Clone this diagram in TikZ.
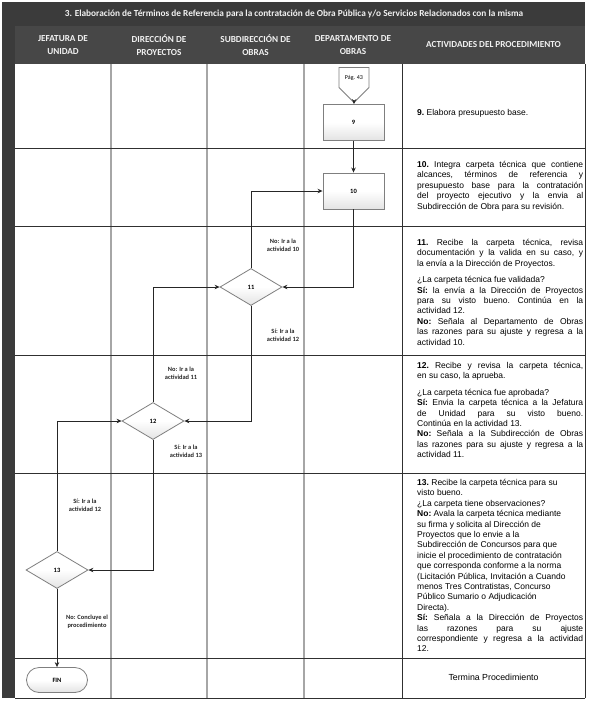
\documentclass[tikz,border=0pt]{standalone}
\usepackage{fontspec}
\setmainfont{Liberation Sans}
\newfontfamily\carlito{Carlito}
\usetikzlibrary{shapes.geometric, shapes.symbols, shapes.misc, arrows.meta, positioning}

\begin{document}
\begin{tikzpicture}[x=1pt, y=-1pt,
  actbox/.style={rectangle, draw=boxline, line width=0.9pt, top color=white, bottom color=gray!22, middle color=white,
    minimum width=61pt, minimum height=36pt, inner sep=0pt, font=\carlito\bfseries\fontsize{6.5}{7}\selectfont},
  decbox/.style={diamond, draw=boxline, line width=0.8pt, top color=white, bottom color=gray!22, middle color=white,
    minimum width=62pt, minimum height=37pt, aspect=1.7, inner sep=0pt, font=\carlito\bfseries\fontsize{6.5}{7}\selectfont},
  pagecon/.style={signal, signal to=south, signal from=nowhere, draw=boxline, line width=0.8pt, fill=white,
    minimum width=30pt, minimum height=29pt, inner sep=0pt, font=\carlito\fontsize{6}{7}\selectfont},
  endbox/.style={rounded rectangle, draw=boxline, line width=0.8pt, top color=white, bottom color=gray!22, middle color=white,
    minimum width=61pt, minimum height=25pt, inner sep=0pt, font=\carlito\bfseries\fontsize{6.5}{7}\selectfont},
  flow/.style={draw=flowline, line width=0.9pt, -{Stealth[length=5pt, width=4.5pt]}},
  branch/.style={align=center, font=\carlito\bfseries\fontsize{6.4}{8}\selectfont, text=black!85},
  acttext/.style={anchor=north west, inner sep=0pt, text width=166pt, align=justify, font=\fontsize{8.5}{10.4}\selectfont\frenchspacing},
  headtext/.style={align=center, text=headfg, font=\carlito\bfseries\fontsize{9.2}{13}\selectfont},
  colline/.style={draw=gridgray, line width=1.3pt},
  rowline/.style={draw=griddark, line width=0.8pt}]
  \definecolor{bandbg}{HTML}{3B3B3B}
  \definecolor{headbg}{HTML}{474747}
  \definecolor{headfg}{HTML}{F2F2F2}
  \definecolor{boxline}{HTML}{7F7F7F}
  \definecolor{flowline}{HTML}{262626}
  \definecolor{gridgray}{HTML}{A6A6A6}
  \definecolor{griddark}{HTML}{303030}

  \useasboundingbox (0,0) rectangle (590,704);

  % frame and header
  \fill[bandbg] (2,2) rectangle (585,64);
  \fill[bandbg] (2,64) rectangle (15,698);
  \fill[headbg] (15,26) rectangle (585,64);
  \fill[white] (15,64) rectangle (585,698);

  \node[headtext, font=\carlito\bfseries\fontsize{9.3}{11}\selectfont] (title) at (294,14) {3. Elaboración de Términos de Referencia para la contratación de Obra Pública y/o Servicios Relacionados con la misma};
  \node[headtext] (hjef) at (63,45) {JEFATURA DE\\UNIDAD};
  \node[headtext] (hdir) at (159,45) {DIRECCIÓN DE\\PROYECTOS};
  \node[headtext] (hsub) at (255.5,45) {SUBDIRECCIÓN DE\\OBRAS};
  \node[headtext] (hdep) at (353,45) {DEPARTAMENTO DE\\OBRAS};
  \node[headtext] (hact) at (493.5,45) {ACTIVIDADES DEL PROCEDIMIENTO};

  \foreach \x in {111,207,304}
    \draw[colline] (\x,64) -- (\x,698);
  \foreach \y in {148,226,355,473,658}
    \draw[rowline] (15,\y) -- (585,\y);
  \draw[rowline] (402,64) -- (402,698);
  \draw[rowline] (585,64) -- (585,698);
  \draw[rowline] (15,698) -- (585,698);

  % flow
  \node[pagecon] (pag43) at (354,77.5) {Pág. 43};
  \node[actbox] (act9) at (353.5,122.5) {9};
  \node[actbox] (act10) at (353.5,191) {10};
  \node[decbox] (dec11) at (251,287) {11};
  \node[decbox] (dec12) at (153,421) {12};
  \node[decbox] (dec13) at (57,570) {13};
  \node[endbox] (fin) at (57,680) {FIN};

  \draw[flow] (pag43.south) -- (act9);
  \draw[flow] (act9) -- (act10);
  \draw[flow] (act10.south) |- (dec11.east);
  \draw[flow] (dec11.north) |- (act10.west);
  \draw[flow] (dec11.south) |- (dec12.east);
  \draw[flow] (dec12.north) |- (dec11.west);
  \draw[flow] (dec12.south) |- (dec13.east);
  \draw[flow] (dec13.north) |- (dec12.west);
  \draw[flow] (dec13) -- (fin);

  \node[branch] (no10) at (283,245) {No: Ir a la\\actividad 10};
  \node[branch] (si12a) at (283,335) {Sí: Ir a la\\actividad 12};
  \node[branch] (no11) at (181,373) {No: Ir a la\\actividad 11};
  \node[branch] (si13) at (186,451) {Sí: Ir a la\\actividad 13};
  \node[branch] (si12b) at (85,505) {Sí: Ir a la\\actividad 12};
  \node[branch] (nofin) at (87,622) {No: Concluye el\\procedimiento};

  % activities
  \node[acttext] (txt9) at (417,109) {\textbf{9.} Elabora presupuesto base.};
  \node[acttext] (txt10) at (417,161) {\textbf{10.} Integra carpeta técnica que contiene\linebreak
    alcances, términos de referencia y\linebreak
    presupuesto base para la contratación\linebreak
    del proyecto ejecutivo y la envia al\linebreak
    Subdirección de Obra para su revisión.};
  \node[acttext] (txt11) at (417,239) {\textbf{11.} Recibe la carpeta técnica, revisa\linebreak
    documentación y la valida en su caso, y\linebreak
    la envía a la Dirección de Proyectos.\par\vspace{6pt}
    ¿La carpeta técnica fue validada?\\
    \textbf{Sí:} la envía a la Dirección de Proyectos\linebreak
    para su visto bueno. Continúa en la\linebreak
    actividad 12.\\
    \textbf{No:} Señala al Departamento de Obras\linebreak
    las razones para su ajuste y regresa a la\linebreak
    actividad 10.};
  \node[acttext] (txt12) at (417,362) {\textbf{12.} Recibe y revisa la carpeta técnica,\linebreak
    en su caso, la aprueba.\par\vspace{6pt}
    ¿La carpeta técnica fue aprobada?\\
    \textbf{Sí:} Envia la carpeta técnica a la Jefatura\linebreak
    de Unidad para su visto bueno.\linebreak
    Continúa en la actividad 13.\\
    \textbf{No:} Señala a la Subdirección de Obras\linebreak
    las razones para su ajuste y regresa a la\linebreak
    actividad 11.};
  \node[acttext] (txt13) at (417,479) {\textbf{13.} Recibe la carpeta técnica para su\\
    visto bueno.\\
    ¿La carpeta tiene observaciones?\\
    \textbf{No:} Avala la carpeta técnica mediante\\
    su firma y solicita al Dirección de\\
    Proyectos que lo envie a la\\
    Subdirección de Concursos para que\\
    inicie el procedimiento de contratación\\
    que corresponda conforme a la norma\\
    (Licitación Pública, Invitación a Cuando\\
    menos Tres Contratistas, Concurso\\
    Público Sumario o Adjudicación\\
    Directa).\\
    \textbf{Sí:} Señala a la Dirección de Proyectos\linebreak
    las razones para su ajuste\linebreak
    correspondiente y regresa a la actividad\linebreak
    12.};
  \node[font=\fontsize{8.8}{10}\selectfont] (termina) at (493.5,677) {Termina Procedimiento};
\end{tikzpicture}
\end{document}
